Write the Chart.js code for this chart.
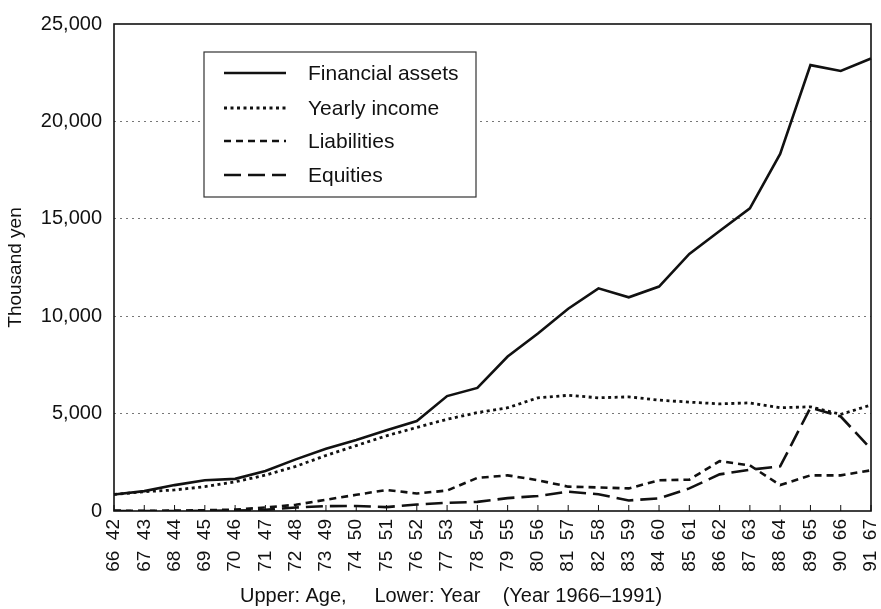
<!DOCTYPE html>
<html>
<head>
<meta charset="utf-8">
<script src="https://cdn.jsdelivr.net/npm/chart.js@4/dist/chart.umd.min.js"></script>
<style>
  html, body { margin: 0; padding: 0; background: #fff; }
  #wrap { width: 881px; height: 609px; }
</style>
</head>
<body>
<div id="wrap"><canvas id="c" width="881" height="609"></canvas></div>
<script>
// ---- data ----
const years = ['66','67','68','69','70','71','72','73','74','75','76','77','78','79','80','81','82','83','84','85','86','87','88','89','90','91'];
const ages  = ['42','43','44','45','46','47','48','49','50','51','52','53','54','55','56','57','58','59','60','61','62','63','64','65','66','67'];
const financialAssets = [850,1020,1330,1580,1650,2050,2650,3200,3650,4150,4620,5900,6320,7930,9110,10380,11430,10970,11520,13200,14370,15540,18330,22890,22590,23230];
const yearlyIncome    = [850,990,1080,1250,1500,1840,2290,2850,3360,3860,4290,4710,5050,5300,5810,5940,5810,5860,5690,5590,5500,5550,5300,5350,4960,5440];
const liabilities     = [20,10,20,40,70,180,320,580,830,1080,900,1050,1700,1830,1580,1250,1210,1160,1580,1610,2560,2340,1330,1830,1830,2090];
const equities        = [0,0,0,10,20,60,180,250,260,200,330,420,470,660,770,990,860,540,650,1160,1880,2120,2290,5300,4850,3190];
const yTicks = [0,5000,10000,15000,20000,25000];
const seriesNames = ['Financial assets','Yearly income','Liabilities','Equities'];
const xTitle = 'Upper: Age,     Lower: Year    (Year 1966\u20131991)';
const yTitle = 'Thousand yen';

const labels = years.map((y, i) => y + '  ' + ages[i]);
const INK = '#111';
const FONT = "'Liberation Sans', Arial, Helvetica, sans-serif";

const styles = [
  { dash: [], width: 2.6 },
  { dash: [3, 3.5], width: 2.8 },
  { dash: [7, 5], width: 2.6 },
  { dash: [17, 7], width: 2.6 }
];
const seriesData = [financialAssets, yearlyIncome, liabilities, equities];

const decorations = {
  id: 'decorations',
  afterDatasetsDraw(chart) {
    const { ctx, chartArea: a, scales } = chart;
    ctx.save();
    // frame
    ctx.strokeStyle = INK;
    ctx.lineWidth = 1.6;
    ctx.setLineDash([]);
    ctx.strokeRect(a.left, a.top, a.right - a.left, a.bottom - a.top);
    // inward tick marks on x axis
    ctx.lineWidth = 1;
    labels.forEach((_, i) => {
      const x = scales.x.getPixelForValue(i);
      ctx.beginPath();
      ctx.moveTo(x, a.bottom);
      ctx.lineTo(x, a.bottom - 6);
      ctx.stroke();
    });
    // legend
    const bx = 204, by = 52, bw = 272, bh = 145;
    ctx.fillStyle = '#fff';
    ctx.fillRect(bx, by, bw, bh);
    ctx.lineWidth = 1.2;
    ctx.strokeStyle = '#333';
    ctx.strokeRect(bx, by, bw, bh);
    const rows = [73, 108, 141, 175];
    ctx.font = '21px ' + FONT;
    ctx.fillStyle = INK;
    ctx.textBaseline = 'middle';
    ctx.textAlign = 'left';
    seriesNames.forEach((name, i) => {
      ctx.strokeStyle = INK;
      ctx.lineWidth = styles[i].width;
      ctx.setLineDash(styles[i].dash);
      ctx.beginPath();
      ctx.moveTo(224, rows[i]);
      ctx.lineTo(286, rows[i]);
      ctx.stroke();
      ctx.fillText(name, 308, rows[i] + 1);
    });
    ctx.setLineDash([]);
    // bottom axis title
    ctx.font = '20px ' + FONT;
    ctx.textAlign = 'center';
    ctx.fillText(xTitle, 451, 596);
    ctx.restore();
  }
};

new Chart(document.getElementById('c'), {
  type: 'line',
  data: {
    labels: labels,
    datasets: seriesNames.map((name, i) => ({
      label: name,
      data: seriesData[i],
      borderColor: INK,
      borderWidth: styles[i].width,
      borderDash: styles[i].dash,
      borderCapStyle: 'butt',
      pointRadius: 0,
      tension: 0,
      fill: false
    }))
  },
  options: {
    responsive: false,
    animation: false,
    events: [],
    layout: { padding: { left: 0, right: 10, top: 18, bottom: 0 } },
    plugins: {
      legend: { display: false },
      tooltip: { enabled: false },
      title: { display: false }
    },
    scales: {
      x: {
        type: 'category',
        offset: false,
        grid: { display: false, drawTicks: false },
        border: { display: false },
        ticks: {
          autoSkip: false,
          maxRotation: 90,
          minRotation: 90,
          padding: 8,
          color: INK,
          font: { family: FONT, size: 19 }
        },
        afterFit(scale) {
          scale.height = 98;
          scale.paddingLeft = 0;
          scale.paddingRight = 0;
        }
      },
      y: {
        min: 0,
        max: 25000,
        afterBuildTicks(scale) { scale.ticks = yTicks.map(v => ({ value: v })); },
        grid: {
          drawTicks: false,
          color: (c) => (c.tick && (c.tick.value === 0 || c.tick.value === 25000)) ? 'rgba(0,0,0,0)' : '#777',
          lineWidth: 1
        },
        border: { display: false, dash: [2, 4] },
        ticks: {
          padding: 12,
          color: INK,
          font: { family: FONT, size: 20 },
          callback: (v) => Number(v).toLocaleString('en-US')
        },
        title: {
          display: true,
          text: yTitle,
          color: INK,
          font: { family: FONT, size: 19 },
          padding: { top: 4, bottom: 0 }
        },
        afterFit(scale) { scale.width = 114; }
      }
    }
  },
  plugins: [decorations]
});
</script>
</body>
</html>
